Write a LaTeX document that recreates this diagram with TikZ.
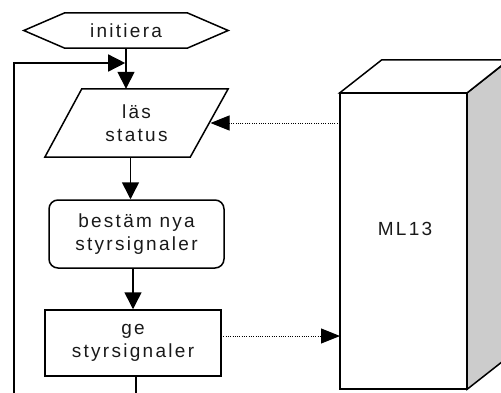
\documentclass[tikz,border=0pt]{standalone}
\usepackage{fontspec}
\setmainfont{Liberation Sans}[LetterSpace=12]
\usetikzlibrary{arrows.meta,calc}
\begin{document}
\begin{tikzpicture}[x=1pt,y=-1pt,
  every node/.style={font=\fontsize{19}{22.5}\selectfont, align=center, inner sep=0pt, text=black!90},
  shp/.style={draw, line width=1.5pt, line join=miter},
  flow/.style={line width=1.5pt, -{Triangle[length=17pt,width=17pt]}},
  sig/.style={line width=1pt, dash pattern=on 1pt off 1.3pt, -{Triangle[length=19pt,width=15pt]}}]
\useasboundingbox (0,0) rectangle (501,392);
\clip (0,0) rectangle (501,392);

% hexagon
\node[minimum width=204pt, minimum height=35pt] (hex) at (126,30.5) {initiera};
\draw[shp] (hex.west) -- ($(hex.north west)+(41,0)$) -- ($(hex.north east)+(-41,0)$)
  -- (hex.east) -- ($(hex.south east)+(-41,0)$) -- ($(hex.south west)+(41,0)$) -- cycle;

% parallelogram
\node[minimum width=183pt, minimum height=68pt] (par) at (136.5,123) {läs\\status};
\draw[shp] ($(par.north west)+(37,0)$) -- (par.north east) -- ($(par.south east)+(-38,0)$)
  -- (par.south west) -- cycle;

% rounded box
\node[shp, rounded corners=9pt, minimum width=175pt, minimum height=68pt] (best) at (136.5,234) {bestäm nya\\styrsignaler};

% plain box
\node[shp, minimum width=176pt, minimum height=66pt] (ge) at (133,343) {ge\\styrsignaler};

% ML13 block
\node[minimum width=127pt, minimum height=296pt] (ml) at (403.5,241) {};
\draw[shp, fill=black!20] (ml.north east) -- ++(42,-33) -- ($(ml.south east)+(42,-33)$) -- (ml.south east) -- cycle;
\draw[shp, fill=white] (ml.north west) -- ++(42,-33) -- ++(127,0) -- (ml.north east) -- cycle;
\draw[shp, fill=white] (ml.north west) rectangle (ml.south east);
\node (mltext) at (405,229) {ML13};

% coordinates
\coordinate (loopC) at (126,63);
\coordinate (parR) at (210.5,123);
\coordinate (mlIn) at (340,123);
\coordinate (geOut) at (221,336);
\coordinate (mlOut) at (340,336);

% flow connectors
\draw[flow] (hex.south) -- (hex.south |- par.north);
\draw[flow] ($(par.south)+(-6,0)$) -- ($(best.north)+(-6,0)$);
\draw[flow] ($(best.south)+(-3.5,0)$) -- (ge.north);
\draw[flow, shorten >=0.8pt] ($(ge.south)+(3,0)$) -- ++(0,40) -| (14,63) -- (loopC);

% signal connectors
\draw[sig] (mlIn) -- (parR);
\draw[sig] (geOut) -- (mlOut);
\end{tikzpicture}
\end{document}
